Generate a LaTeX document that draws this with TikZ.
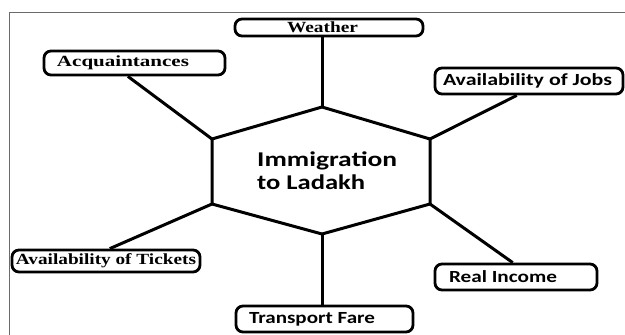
\documentclass[tikz,border=0pt]{standalone}
\usepackage{fontspec}
\usepackage{graphicx}
\usetikzlibrary{calc}
\newfontfamily\tnrfont{Liberation Serif}
\newfontfamily\calibfont{Carlito}
\definecolor{framegray}{gray}{0.42}
\newcommand\wfit[2]{\resizebox{#1}{\height}{#2}}
\newcommand\lbl[4]{\makebox[#1][l]{\hspace*{#2}\wfit{#3}{#4}}}
\begin{document}
\begin{tikzpicture}[x=1pt,y=-1pt,
  bx/.style={draw, fill=white, line width=2.8pt, rounded corners=7pt, inner xsep=0pt, inner ysep=0pt, text=black},
  ln/.style={line width=3pt},
  serifbig/.style={font=\tnrfont\bfseries\fontsize{15.5}{17}\selectfont},
  sansbig/.style={font=\calibfont\bfseries\fontsize{17}{19}\selectfont},
  titletext/.style={font=\calibfont\bfseries\fontsize{21}{24}\selectfont, inner sep=0pt}]
\useasboundingbox (0,0) rectangle (625,335);
\draw[framegray, line width=1pt] (9,335) -- (9,12) -- (625,12);
% hexagon
\coordinate (hT) at (322,107);
\coordinate (hUR) at (430,139);
\coordinate (hLR) at (430,204);
\coordinate (hB) at (322,234);
\coordinate (hLL) at (212,204);
\coordinate (hUL) at (212,139);
\draw[ln, line join=miter] (hT) -- (hUR) -- (hLR) -- (hB) -- (hLL) -- (hUL) -- cycle;
\node[titletext, anchor=base west] (title1) at (257,166) {\wfit{140pt}{Immigration}};
\node[titletext, anchor=base west] (title2) at (257,189.5) {\wfit{108pt}{to Ladakh}};
% boxes
\node[bx, serifbig, minimum height=17pt] (weather) at (329,27.5) {\lbl{188pt}{52pt}{71pt}{Weather}};
\node[bx, serifbig, minimum height=24pt] (acq) at (134.5,63) {\lbl{181pt}{13pt}{132pt}{Acquaintances}};
\node[bx, sansbig, minimum height=26pt] (jobs) at (529,81) {\lbl{188pt}{8pt}{169pt}{Availability of Jobs}};
\node[bx, serifbig, minimum height=22pt] (tick) at (106,261) {\lbl{188pt}{4pt}{180pt}{Availability of Tickets}};
\node[bx, sansbig, minimum height=26pt] (trans) at (324.5,319) {\lbl{177pt}{13pt}{126pt}{Transport Fare}};
\node[bx, sansbig, minimum height=26pt] (real) at (516,277) {\lbl{162pt}{14pt}{108pt}{Real Income}};
% connectors
\draw[ln] (weather.south -| hT) -- (hT);
\draw[ln] ($(acq.south west)!0.464!(acq.south east)$) -- (hUL);
\draw[ln] ($(jobs.south west)!0.436!(jobs.south east)$) -- (hUR);
\draw[ln] ($(tick.north west)!0.52!(tick.north east)$) -- (hLL);
\draw[ln] ($(real.north west)!0.48!(real.north east)$) -- (hLR);
\draw[ln] (hB) -- (trans.north -| hB);
\end{tikzpicture}
\end{document}
